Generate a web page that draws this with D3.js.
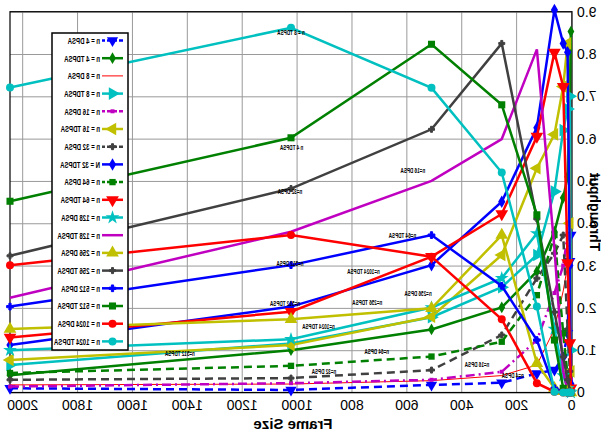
<!DOCTYPE html>
<html><head><meta charset="utf-8">
<script src="https://cdn.jsdelivr.net/npm/d3@7"></script>
<style>body{margin:0;background:#fff}svg{display:block}</style>
</head><body><svg id="c" width="601" height="432"></svg>
<script>
const frameSizes = [2048, 1024, 512, 256, 128, 64, 32, 16, 8, 4];
const xTicks = [0, 200, 400, 600, 800, 1000, 1200, 1400, 1600, 1800, 2000];
const yTicks = [0, 1, 2, 3, 4, 5, 6, 7, 8, 9];
const seriesNames = ["n = 4 DPSA","n = 4 TDPSA","n = 8 DPSA","n = 8 TDPSA","n = 16 DPSA","n = 16 TDPSA","n = 32 DPSA","N = 32 TDPSA","n = 64 DPSA","n = 64 TDPSA","n = 128 DPSA","n = 128 TDPSA","n = 256 DPSA","n = 256 TDPSA","n = 512 DPSA","n = 512 TDPSA","n = 1024 DPSA","n = 1024 TDPSA"];
const n4DPSA    = [0.10, 0.06, 0.18, 0.23, 0.45, 0.53, 0.84, 1.40, 3.10, 3.72];
const n4TDPSA   = [0.41, 1.00, 1.49, 2.01, 2.86, 3.80, 4.60, 5.10, 7.00, 8.53];
const n8DPSA    = [0.18, 0.20, 0.28, 0.40, 0.65, 1.50, 2.40, 3.00, 3.72, 2.50];
const n8TDPSA   = [0.65, 1.16, 1.78, 2.49, 3.25, 4.75, 6.20, 6.70, 7.00, 1.00];
const n16DPSA   = [0.14, 0.22, 0.30, 0.49, 1.24, 2.35, 3.00, 3.72, 1.50, 0.30];
const n16TDPSA  = [0.77, 1.12, 1.79, 3.25, 5.30, 6.10, 7.23, 8.25, 4.00, 0.50];
const n32DPSA   = [0.30, 0.34, 0.53, 1.36, 2.70, 3.29, 3.72, 1.50, 0.50, 0.10];
const n32TDPSA  = [1.12, 2.03, 3.01, 4.51, 6.26, 9.04, 8.25, 8.04, 3.00, 0.20];
const n64DPSA   = [0.46, 0.63, 0.85, 1.20, 2.30, 3.72, 1.40, 0.40, 0.10, 0.00];
const n64TDPSA  = [1.30, 1.91, 3.21, 4.22, 6.05, 8.04, 7.23, 3.06, 1.17, 0.10];
const n128DPSA  = [1.00, 1.26, 2.01, 2.70, 3.76, 1.50, 0.40, 0.10, 0.02, 0.00];
const n128TDPSA = [2.24, 3.80, 5.00, 5.99, 8.11, 3.40, 0.50, 0.05, 0.00, 0.00];
const n256DPSA  = [1.50, 1.73, 1.99, 3.72, 0.69, 0.10, 0.03, 0.02, 0.01, 0.00];
const n256TDPSA = [3.23, 4.82, 6.22, 8.25, 4.10, 1.90, 0.84, 0.30, 0.05, 0.00];
const n512DPSA  = [2.03, 3.01, 3.72, 2.52, 1.24, 0.10, 0.02, 0.00, 0.00, 0.00];
const n512TDPSA = [4.52, 6.02, 8.23, 6.80, 4.20, 1.24, 0.10, 0.02, 0.00, 0.00];
const n1024DPSA = [3.01, 3.72, 3.21, 1.73, 0.22, 0.02, 0.00, 0.00, 0.00, 0.00];
const n1024TDPSA= [7.21, 8.62, 7.20, 5.20, 2.03, 0.02, 0.00, 0.00, 0.00, 0.00];
const plotLabels = [
  ["n = 8 TDPSA", 1024, 8.5], ["n 4 TDPSA", 1022, 5.8], ["n=32 DPSA", 1028, 4.75],
  ["n=16 DPSA", 580, 5.25], ["n=64 TDPSA", 618, 3.7], ["n=512 DPSA", 1028, 3.05],
  ["n=1024 TDPSA", 760, 2.85], ["n=512 TDPSA", 1046, 2.1], ["n=256 TDPSA", 746, 2.13],
  ["n=1024 TDPSA", 924, 1.55], ["n=256 DPSA", 561, 2.35], ["n=512 TDPSA", 1429, 0.92],
  ["n=64 DPSA", 712, 0.98], ["n=32 DPSA", 904, 0.5], ["n=16 DPSA", 346, 0.67], ["n=4 DPSA", 216, 0.41]
];

const seriesValues = [n4DPSA,n4TDPSA,n8DPSA,n8TDPSA,n16DPSA,n16TDPSA,n32DPSA,n32TDPSA,n64DPSA,n64TDPSA,n128DPSA,n128TDPSA,n256DPSA,n256TDPSA,n512DPSA,n512TDPSA,n1024DPSA,n1024TDPSA];
const BLUE="#0000ff", GREEN="#008000", RED="#ff0000", CYAN="#00c0c0", MAG="#c000c0", OLIVE="#c0c000", GRAY="#404040";
const styles = [
  {c:BLUE, w:2.5, dash:"8,5", m:"tdown", s:55},
  {c:GREEN, w:2.5, m:"diamond", s:40},
  {c:RED, w:1, m:null},
  {c:CYAN, w:2.5, m:"tleft", s:70},
  {c:MAG, w:2.5, dash:"9,4,2,4", m:"square", s:16},
  {c:OLIVE, w:2.5, m:"tright", s:70},
  {c:GRAY, w:2.5, dash:"8,5", m:"plus", s:20},
  {c:BLUE, w:2.5, m:"diamond", s:45},
  {c:GREEN, w:2.5, dash:"8,5", m:"square", s:40},
  {c:RED, w:2.5, m:"tdown", s:70},
  {c:CYAN, w:2.5, m:"star", s:60},
  {c:MAG, w:2.5, m:null},
  {c:OLIVE, w:2.5, m:"tup", s:70},
  {c:GRAY, w:2.5, m:"plus", s:20},
  {c:BLUE, w:2.5, m:"plus", s:25},
  {c:GREEN, w:2.5, m:"square", s:50},
  {c:RED, w:2.5, m:"circle", s:50},
  {c:CYAN, w:2.5, m:"circle", s:50}
];

const svg = d3.select("#c");
svg.append("rect").attr("width",601).attr("height",432).attr("fill","#fff");
const root = svg.append("g").attr("transform","translate(601,0) scale(-1,1)");
const x = d3.scaleLinear().domain([0,2048]).range([29,591]);
const y = d3.scaleLinear().domain([0,9]).range([392.5,11.7]);
const FONT = "'Liberation Sans', Arial, sans-serif";

const gx = root.append("g").attr("transform","translate(0,392.5)")
  .call(d3.axisBottom(x).tickValues(xTicks).tickSize(-(392.5-11.7)).tickPadding(8).tickFormat(d3.format("d")));
const gy = root.append("g").attr("transform","translate(29,0)")
  .call(d3.axisLeft(y).tickValues(yTicks).tickSize(-(591-29)).tickPadding(5).tickFormat(d => d===0 ? "0" : d.toFixed(1)));
[gx,gy].forEach(g => {
  g.select(".domain").remove();
  g.selectAll(".tick line").attr("stroke","#9a9a9a").attr("stroke-width",1);
  g.selectAll(".tick text").attr("font-family",FONT).attr("font-size",14).attr("fill","#000");
});
root.append("rect").attr("x",x(0)).attr("y",y(9)).attr("width",x(2048)-x(0)).attr("height",y(0)-y(9))
  .attr("fill","none").attr("stroke","#000").attr("stroke-width",1.2);

root.append("text").attr("x",308).attr("y",429).attr("text-anchor","middle")
  .attr("font-family",FONT).attr("font-weight","bold").attr("font-size",15).text("Frame Size");
root.append("text").attr("transform","translate(11.5,212) rotate(-90)").attr("text-anchor","middle")
  .attr("font-family",FONT).attr("font-weight","bold").attr("font-size",14).text("Throughput");

function symbolPath(m, s){
  const map = {circle:d3.symbolCircle, square:d3.symbolSquare, diamond:d3.symbolDiamond, star:d3.symbolStar,
               plus:d3.symbolCross, tup:d3.symbolTriangle, tdown:d3.symbolTriangle, tleft:d3.symbolTriangle, tright:d3.symbolTriangle};
  return d3.symbol().type(map[m]).size(s)();
}
function rot(m){ return m==="tdown"?180: m==="tleft"?-90: m==="tright"?90: 0; }

const line = d3.line().x(d => x(d[0])).y(d => y(d[1]));
seriesValues.forEach((vals, i) => {
  const st = styles[i];
  const pts = frameSizes.map((f,j) => [f, vals[j]]);
  const g = root.append("g");
  g.append("path").attr("d", line(pts)).attr("fill","none").attr("stroke",st.c)
    .attr("stroke-width",st.w).attr("stroke-dasharray",st.dash||null).attr("stroke-linejoin","miter");
  if (st.m) {
    g.selectAll("path.m").data(pts).enter().append("path").attr("class","m")
      .attr("d", symbolPath(st.m, st.s))
      .attr("transform", d => `translate(${x(d[0])},${y(d[1])}) rotate(${rot(st.m)})`)
      .attr("fill", st.c).attr("stroke", st.m==="plus"?st.c:"none").attr("stroke-width",1);
  }
});

// in-plot labels
const lab = root.append("g");
const labTexts = lab.selectAll("text").data(plotLabels).enter().append("text")
  .attr("x", d => x(d[1])).attr("y", d => y(d[2]) + 2.5).attr("text-anchor","middle")
  .attr("font-family",FONT).attr("font-weight","bold").attr("font-size",7.5).attr("fill","#000").text(d => d[0]);
const refW = (function(){ const t = lab.append("text").attr("font-family",FONT).attr("font-weight","bold").attr("font-size",7.5).text("n=512 TDPSA"); const w = t.node().getComputedTextLength(); t.remove(); return w; })();
const fLab = 30 / refW;
labTexts.each(function(){ const w = this.getComputedTextLength(); d3.select(this).attr("textLength", w*fLab).attr("lengthAdjust","spacingAndGlyphs"); });

// legend
const lg = root.append("g");
lg.append("rect").attr("x",473).attr("y",33).attr("width",76).attr("height",317).attr("fill","#fff").attr("stroke","#000").attr("stroke-width",1.5);
const rowY = i => 40.5 + i*17.7;
const legTexts = [];
seriesNames.forEach((name, i) => {
  const st = styles[i], yy = rowY(i);
  lg.append("line").attr("x1",478).attr("x2",499).attr("y1",yy).attr("y2",yy).attr("stroke",st.c)
    .attr("stroke-width",st.w).attr("stroke-dasharray",st.dash ? "4,2" : null);
  if (st.m) lg.append("path").attr("d", symbolPath(st.m, st.s)).attr("transform",`translate(488.5,${yy}) rotate(${rot(st.m)})`)
    .attr("fill",st.c).attr("stroke", st.m==="plus"?st.c:"none");
  legTexts.push(lg.append("text").attr("x",501).attr("y",yy+3.3).attr("font-family",FONT).attr("font-weight","bold")
    .attr("font-size",9.5).attr("fill","#000").text(name));
});
const wRef = legTexts[17].node().getComputedTextLength();
const fLeg = 46 / wRef;
legTexts.forEach(t => { const w = t.node().getComputedTextLength(); t.attr("textLength", w*fLeg).attr("lengthAdjust","spacingAndGlyphs"); });
</script></body></html>
